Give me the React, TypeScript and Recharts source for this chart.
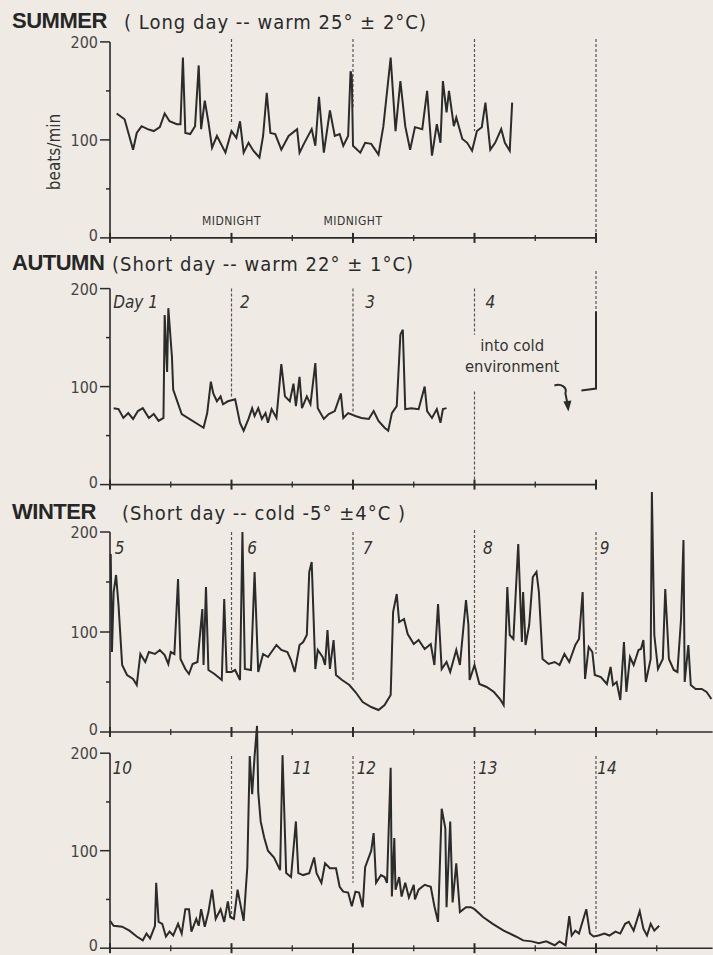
import React from 'react';
import { LineChart, Line, XAxis, YAxis, ReferenceLine, ReferenceDot } from 'recharts';

// heart rate traces, [day, beats/min]
const summerBpm: [number, number][] = [
  [0.055, 127], [0.12, 121], [0.19, 90], [0.22, 107], [0.26, 114], [0.31, 111], [0.36, 109], [0.41, 113],
  [0.45, 127], [0.49, 119], [0.55, 116], [0.58, 116], [0.6, 184], [0.62, 107], [0.66, 106], [0.7, 114],
  [0.73, 176], [0.75, 111], [0.78, 140], [0.81, 118], [0.84, 92], [0.88, 104], [0.95, 87], [1.0, 109],
  [1.04, 102], [1.07, 119], [1.1, 87], [1.14, 97], [1.18, 89], [1.23, 82], [1.26, 104], [1.29, 148],
  [1.32, 107], [1.36, 106], [1.41, 90], [1.47, 104], [1.54, 111], [1.56, 87], [1.6, 97], [1.66, 111],
  [1.69, 94], [1.72, 144], [1.76, 87], [1.81, 130], [1.85, 104], [1.89, 106], [1.92, 94], [1.96, 104],
  [1.98, 170], [1.99, 165], [2.0, 94], [2.06, 87], [2.1, 97], [2.15, 96], [2.21, 85], [2.25, 114],
  [2.31, 184], [2.35, 109], [2.39, 160], [2.43, 114], [2.47, 90], [2.51, 113], [2.57, 111], [2.61, 150],
  [2.65, 84], [2.69, 116], [2.72, 97], [2.74, 160], [2.77, 128], [2.79, 150], [2.83, 114], [2.85, 123],
  [2.9, 101], [2.94, 97], [2.98, 89], [3.02, 109], [3.06, 113], [3.09, 138], [3.13, 90], [3.17, 97],
  [3.22, 111], [3.25, 97], [3.29, 89], [3.31, 138],
];

const autumnBpm: [number, number][] = [
  [0.03, 78], [0.07, 77], [0.11, 68], [0.15, 73], [0.19, 67], [0.23, 75], [0.27, 78], [0.32, 68],
  [0.36, 72], [0.4, 65], [0.44, 68], [0.45, 173], [0.47, 115], [0.48, 180], [0.51, 130], [0.52, 97],
  [0.59, 72], [0.77, 58], [0.8, 73], [0.83, 105], [0.85, 93], [0.88, 85], [0.91, 90], [0.93, 82],
  [0.97, 85], [1.03, 87], [1.07, 63], [1.1, 55], [1.14, 67], [1.17, 78], [1.19, 70], [1.22, 78],
  [1.25, 67], [1.28, 73], [1.3, 63], [1.33, 77], [1.37, 68], [1.41, 123], [1.44, 90], [1.48, 85],
  [1.51, 103], [1.53, 80], [1.56, 110], [1.58, 78], [1.62, 90], [1.65, 82], [1.69, 124], [1.71, 78],
  [1.76, 67], [1.8, 72], [1.85, 75], [1.9, 93], [1.92, 68], [1.96, 73], [2.02, 70], [2.07, 68],
  [2.13, 67], [2.17, 75], [2.21, 65], [2.26, 58], [2.29, 55], [2.32, 73], [2.36, 80], [2.39, 153],
  [2.41, 158], [2.43, 77], [2.48, 78], [2.54, 77], [2.59, 100], [2.61, 75], [2.65, 68], [2.69, 77],
  [2.72, 63], [2.74, 77], [2.77, 78],
];

const autumnColdBpm: [number, number][] = [[3.88, 96], [4.0, 98], [4.0, 177]];

const winterBpm: [number, number][] = [
  [0.006, 178], [0.016, 80], [0.03, 140], [0.05, 157], [0.07, 127], [0.1, 67], [0.14, 57], [0.19, 53],
  [0.22, 47], [0.25, 78], [0.29, 70], [0.32, 80], [0.37, 78], [0.41, 82], [0.45, 77], [0.48, 68],
  [0.5, 80], [0.53, 78], [0.56, 153], [0.58, 73], [0.62, 63], [0.65, 58], [0.68, 68], [0.72, 70],
  [0.76, 123], [0.77, 67], [0.79, 145], [0.81, 62], [0.86, 58], [0.92, 52], [0.94, 133], [0.96, 60],
  [1.0, 60], [1.03, 62], [1.07, 52], [1.09, 200], [1.11, 63], [1.16, 62], [1.19, 160], [1.22, 60],
  [1.26, 78], [1.3, 75], [1.37, 87], [1.41, 82], [1.46, 80], [1.49, 72], [1.52, 60], [1.56, 87],
  [1.59, 90], [1.62, 97], [1.64, 160], [1.66, 170], [1.69, 63], [1.71, 82], [1.75, 75], [1.77, 67],
  [1.79, 102], [1.81, 63], [1.84, 92], [1.86, 57], [1.91, 52], [1.97, 47], [2.02, 40], [2.08, 30],
  [2.15, 25], [2.21, 22], [2.26, 27], [2.29, 33], [2.31, 37], [2.33, 120], [2.36, 138], [2.38, 110],
  [2.42, 113], [2.45, 98], [2.5, 88], [2.54, 92], [2.59, 83], [2.64, 88], [2.67, 67], [2.7, 128],
  [2.73, 63], [2.77, 70], [2.8, 60], [2.85, 82], [2.88, 67], [2.93, 132], [2.95, 107], [2.96, 52],
  [3.0, 67], [3.04, 48], [3.1, 45], [3.16, 40], [3.21, 33], [3.24, 27], [3.27, 145], [3.29, 97],
  [3.32, 93], [3.36, 188], [3.39, 90], [3.4, 140], [3.42, 87], [3.45, 107], [3.48, 155], [3.51, 160],
  [3.53, 140], [3.56, 73], [3.61, 68], [3.66, 70], [3.7, 67], [3.74, 78], [3.78, 70], [3.83, 87],
  [3.86, 93], [3.89, 140], [3.91, 53], [3.94, 85], [3.97, 80], [3.99, 57], [4.04, 55], [4.09, 48],
  [4.12, 65], [4.14, 47], [4.17, 50], [4.2, 32], [4.23, 90], [4.25, 40], [4.28, 75], [4.31, 67],
  [4.35, 82], [4.37, 83], [4.39, 92], [4.41, 50], [4.45, 73], [4.46, 240], [4.48, 97], [4.51, 63],
  [4.55, 73], [4.57, 143], [4.6, 73], [4.64, 62], [4.67, 60], [4.7, 113], [4.72, 192], [4.73, 50],
  [4.76, 87], [4.78, 47], [4.82, 43], [4.87, 43], [4.91, 40], [4.95, 33],
];

const lateWinterBpm: [number, number][] = [
  [0.0, 28], [0.03, 23], [0.1, 22], [0.16, 18], [0.22, 12], [0.27, 8], [0.3, 15], [0.33, 10],
  [0.37, 23], [0.38, 67], [0.4, 27], [0.43, 25], [0.46, 12], [0.49, 17], [0.52, 13], [0.56, 25],
  [0.59, 15], [0.62, 40], [0.65, 40], [0.67, 17], [0.71, 30], [0.73, 23], [0.75, 40], [0.78, 22],
  [0.81, 37], [0.84, 60], [0.87, 30], [0.91, 40], [0.94, 27], [0.97, 48], [0.99, 32], [1.02, 30],
  [1.05, 60], [1.07, 47], [1.1, 28], [1.13, 83], [1.15, 197], [1.17, 158], [1.19, 197], [1.21, 228],
  [1.22, 160], [1.24, 130], [1.27, 113], [1.3, 100], [1.35, 93], [1.4, 80], [1.42, 198], [1.45, 77],
  [1.49, 73], [1.53, 130], [1.55, 77], [1.59, 75], [1.64, 77], [1.68, 93], [1.7, 77], [1.74, 67],
  [1.77, 87], [1.81, 82], [1.86, 82], [1.89, 63], [1.92, 58], [1.96, 57], [1.99, 43], [2.02, 58],
  [2.05, 57], [2.08, 42], [2.1, 83], [2.15, 100], [2.17, 118], [2.19, 67], [2.23, 75], [2.26, 73],
  [2.28, 67], [2.31, 185], [2.32, 53], [2.34, 113], [2.35, 60], [2.38, 73], [2.4, 53], [2.43, 67],
  [2.46, 52], [2.5, 65], [2.51, 50], [2.54, 60], [2.59, 65], [2.64, 63], [2.67, 43], [2.7, 27],
  [2.73, 143], [2.76, 123], [2.77, 42], [2.8, 130], [2.82, 47], [2.85, 87], [2.88, 37], [2.93, 42],
  [2.97, 42], [3.0, 40], [3.07, 32], [3.15, 25], [3.24, 18], [3.34, 12], [3.4, 8], [3.47, 7],
  [3.53, 5], [3.59, 7], [3.66, 3], [3.7, 7], [3.75, 3], [3.78, 33], [3.8, 13], [3.83, 18],
  [3.86, 15], [3.92, 40], [3.95, 15], [3.98, 12], [4.02, 13], [4.07, 15], [4.11, 13], [4.16, 17],
  [4.2, 15], [4.24, 25], [4.27, 27], [4.31, 18], [4.36, 38], [4.39, 20], [4.42, 13], [4.45, 25],
  [4.48, 18], [4.52, 23],
];

// midnight markers: [day, from bpm, to bpm]
const summerMidnights: [number, number, number][] = [[1, 203, 116], [2, 203, 133], [3, 203, 109], [4, 203, 0]];
const autumnMidnights: [number, number, number][] = [[1, 200, 89], [2, 200, 73], [3, 200, 153], [3, 95, 0], [4, 218, 177]];
const winterMidnights: [number, number, number][] = [[1, 200, 60], [2, 200, 50], [3, 202, 68], [4, 200, 78]];
const lateWinterMidnights: [number, number, number][] = [[1, 197, 30], [2, 197, 67], [3, 192, 43], [4, 197, 17]];

// labels: [day, bpm, text]
const summerNotes: [number, number, string][] = [[1, 18, 'MIDNIGHT'], [2, 18, 'MIDNIGHT']];
const autumnNotes: [number, number, string][] = [[0.21, 186, 'Day 1'], [1.11, 186, '2'], [2.14, 186, '3'], [3.13, 186, '4']];
const coldNotes: [number, number, string][] = [[3.31, 142, 'into cold'], [3.31, 121, 'environment']];
const winterNotes: [number, number, string][] = [[0.08, 184, '5'], [1.17, 184, '6'], [2.12, 184, '7'], [3.11, 184, '8'], [4.07, 184, '9']];
const lateWinterNotes: [number, number, string][] = [[0.1, 185, '10'], [1.58, 185, '11'], [2.11, 185, '12'], [3.11, 185, '13'], [4.09, 185, '14']];

const yTicks = [0, 50, 100, 150, 200];
const condensed = '"DejaVu Sans Condensed", "Liberation Sans Narrow", "DejaVu Sans", sans-serif';
const ink = '#2b2b2b';

const toPts = (a: [number, number][]) => a.map(([day, bpm]) => ({ day, bpm }));

function YTick({ x, y, payload }: any) {
  const major = payload.value % 100 === 0;
  return (
    <g>
      <line x1={x - (major ? 10 : 4)} x2={x} y1={y} y2={y} stroke={ink} strokeWidth={1.5} />
      {major && (
        <text x={x - 12} y={y + (payload.value === 0 ? 3 : 6)} textAnchor="end" fontSize={16} fontFamily={condensed} fill="#444">
          {payload.value}
        </text>
      )}
    </g>
  );
}

function XTick({ x, y, payload }: any) {
  const major = payload.value % 1 === 0;
  const h = major ? 5 : 3;
  return <line x1={x} x2={x} y1={y - h} y2={y + h} stroke={ink} strokeWidth={major ? 2 : 1.3} />;
}

type PanelProps = {
  y0: number;
  unit: number;
  yMax: number;
  xMax: number;
  traces: [number, number][][];
  midnights: [number, number, number][];
  notes: [number, number, string][];
  noteStyle: any;
  children?: React.ReactNode;
};

function Panel({ y0, unit, yMax, xMax, traces, midnights, notes, noteStyle, children }: PanelProps) {
  const plotH = yMax * unit;
  const top = y0 - plotH - 10;
  const plotW = xMax * 121.5;
  const dayTicks: number[] = [];
  for (let t = 0; t <= xMax + 0.001; t += 0.5) dayTicks.push(t);
  return (
    <div style={{ position: 'absolute', left: 0, top }}>
      <LineChart width={713} height={plotH + 22} margin={{ top: 10, right: 713 - 110 - plotW, bottom: 0, left: 60 }}>
        <XAxis
          type="number"
          dataKey="day"
          domain={[0, xMax]}
          ticks={dayTicks}
          interval={0}
          height={12}
          tickSize={0}
          tickMargin={0}
          tick={<XTick />}
          axisLine={{ stroke: ink, strokeWidth: 1.6 }}
          tickLine={false}
        />
        <YAxis
          type="number"
          dataKey="bpm"
          domain={[0, yMax]}
          ticks={yTicks}
          interval={0}
          width={50}
          tickSize={0}
          tickMargin={0}
          tick={<YTick />}
          axisLine={false}
          tickLine={false}
        />
        <ReferenceLine segment={[{ x: 0, y: 0 }, { x: 0, y: 200 }]} stroke={ink} strokeWidth={1.6} />
        {midnights.map(([d, from, to], i) => (
          <ReferenceLine
            key={'m' + i}
            segment={[{ x: d, y: from }, { x: d, y: to }]}
            stroke="#555"
            strokeWidth={1.2}
            strokeDasharray="3 2"
          />
        ))}
        {traces.map((t, i) => (
          <Line
            key={'t' + i}
            data={toPts(t)}
            dataKey="bpm"
            type="linear"
            stroke={ink}
            strokeWidth={2}
            dot={false}
            isAnimationActive={false}
          />
        ))}
        {notes.map(([d, v, text], i) => (
          <ReferenceDot
            key={'n' + i}
            x={d}
            y={v}
            r={0}
            fill="none"
            stroke="none"
            label={{ value: text, position: 'center', fill: '#333', ...noteStyle }}
          />
        ))}
        {children}
      </LineChart>
    </div>
  );
}

function ColdArrow({ cx, cy }: any) {
  return (
    <g>
      <path d={`M${cx - 10},${cy - 10} C${cx - 3},${cy - 12} ${cx + 3},${cy - 8} ${cx + 1},${cy - 2} L${cx + 3},${cy + 8}`} fill="none" stroke={ink} strokeWidth={2} />
      <path d={`M${cx - 1},${cy + 6} L${cx + 4},${cy + 16} L${cx + 7},${cy + 5} Z`} fill={ink} />
    </g>
  );
}

function Title({ top, word, rest, restLeft }: { top: number; word: string; rest: string; restLeft: number }) {
  return (
    <>
      <div
        style={{
          position: 'absolute',
          top,
          left: 12,
          fontFamily: '"Liberation Sans", Arial, sans-serif',
          fontWeight: 900,
          fontSize: 22,
          letterSpacing: -0.5,
          color: '#262626',
          lineHeight: 1,
        }}
      >
        {word}
      </div>
      <div
        style={{
          position: 'absolute',
          top: top + 1.7,
          left: restLeft,
          fontFamily: condensed,
          fontSize: 20,
          letterSpacing: 1,
          color: '#2a2a2a',
          lineHeight: 1,
          whiteSpace: 'pre',
        }}
      >
        {rest}
      </div>
    </>
  );
}

export default function App() {
  const dayStyle = { fontSize: 17, fontStyle: 'italic', fontFamily: condensed };
  return (
    <div style={{ position: 'absolute', left: 0, top: 0, width: 713, height: 955, background: '#efebe4', overflow: 'hidden' }}>
      <Title top={10} word="SUMMER" restLeft={124} rest="( Long day -- warm 25° ± 2°C)" />
      <Title top={252} word="AUTUMN" restLeft={112} rest="(Short day -- warm 22° ± 1°C)" />
      <Title top={501} word="WINTER" restLeft={122} rest="(Short day -- cold -5° ±4°C )" />

      <div
        style={{
          position: 'absolute',
          left: 54,
          top: 152,
          transform: 'translate(-50%, -50%) rotate(-90deg)',
          fontFamily: condensed,
          fontSize: 17,
          color: '#333',
          whiteSpace: 'nowrap',
        }}
      >
        beats/min
      </div>

      <Panel
        y0={238}
        unit={0.98}
        yMax={205}
        xMax={4}
        traces={[summerBpm]}
        midnights={summerMidnights}
        notes={summerNotes}
        noteStyle={{ fontSize: 12, fontFamily: condensed, letterSpacing: 0.5 }}
      />
      <Panel
        y0={485}
        unit={0.98}
        yMax={220}
        xMax={4}
        traces={[autumnBpm, autumnColdBpm]}
        midnights={autumnMidnights}
        notes={autumnNotes}
        noteStyle={dayStyle}
      >
        {coldNotes.map(([d, v, text], i) => (
          <ReferenceDot
            key={'c' + i}
            x={d}
            y={v}
            r={0}
            fill="none"
            stroke="none"
            label={{ value: text, position: 'center', fill: '#333', fontSize: 16.5, fontFamily: condensed }}
          />
        ))}
        <ReferenceDot x={3.74} y={91} r={0} shape={<ColdArrow />} />
      </Panel>
      <Panel
        y0={731.5}
        unit={1.0}
        yMax={245}
        xMax={4.96}
        traces={[winterBpm]}
        midnights={winterMidnights}
        notes={winterNotes}
        noteStyle={dayStyle}
      />
      <Panel
        y0={948}
        unit={0.975}
        yMax={232}
        xMax={4.96}
        traces={[lateWinterBpm]}
        midnights={lateWinterMidnights}
        notes={lateWinterNotes}
        noteStyle={dayStyle}
      />
    </div>
  );
}
